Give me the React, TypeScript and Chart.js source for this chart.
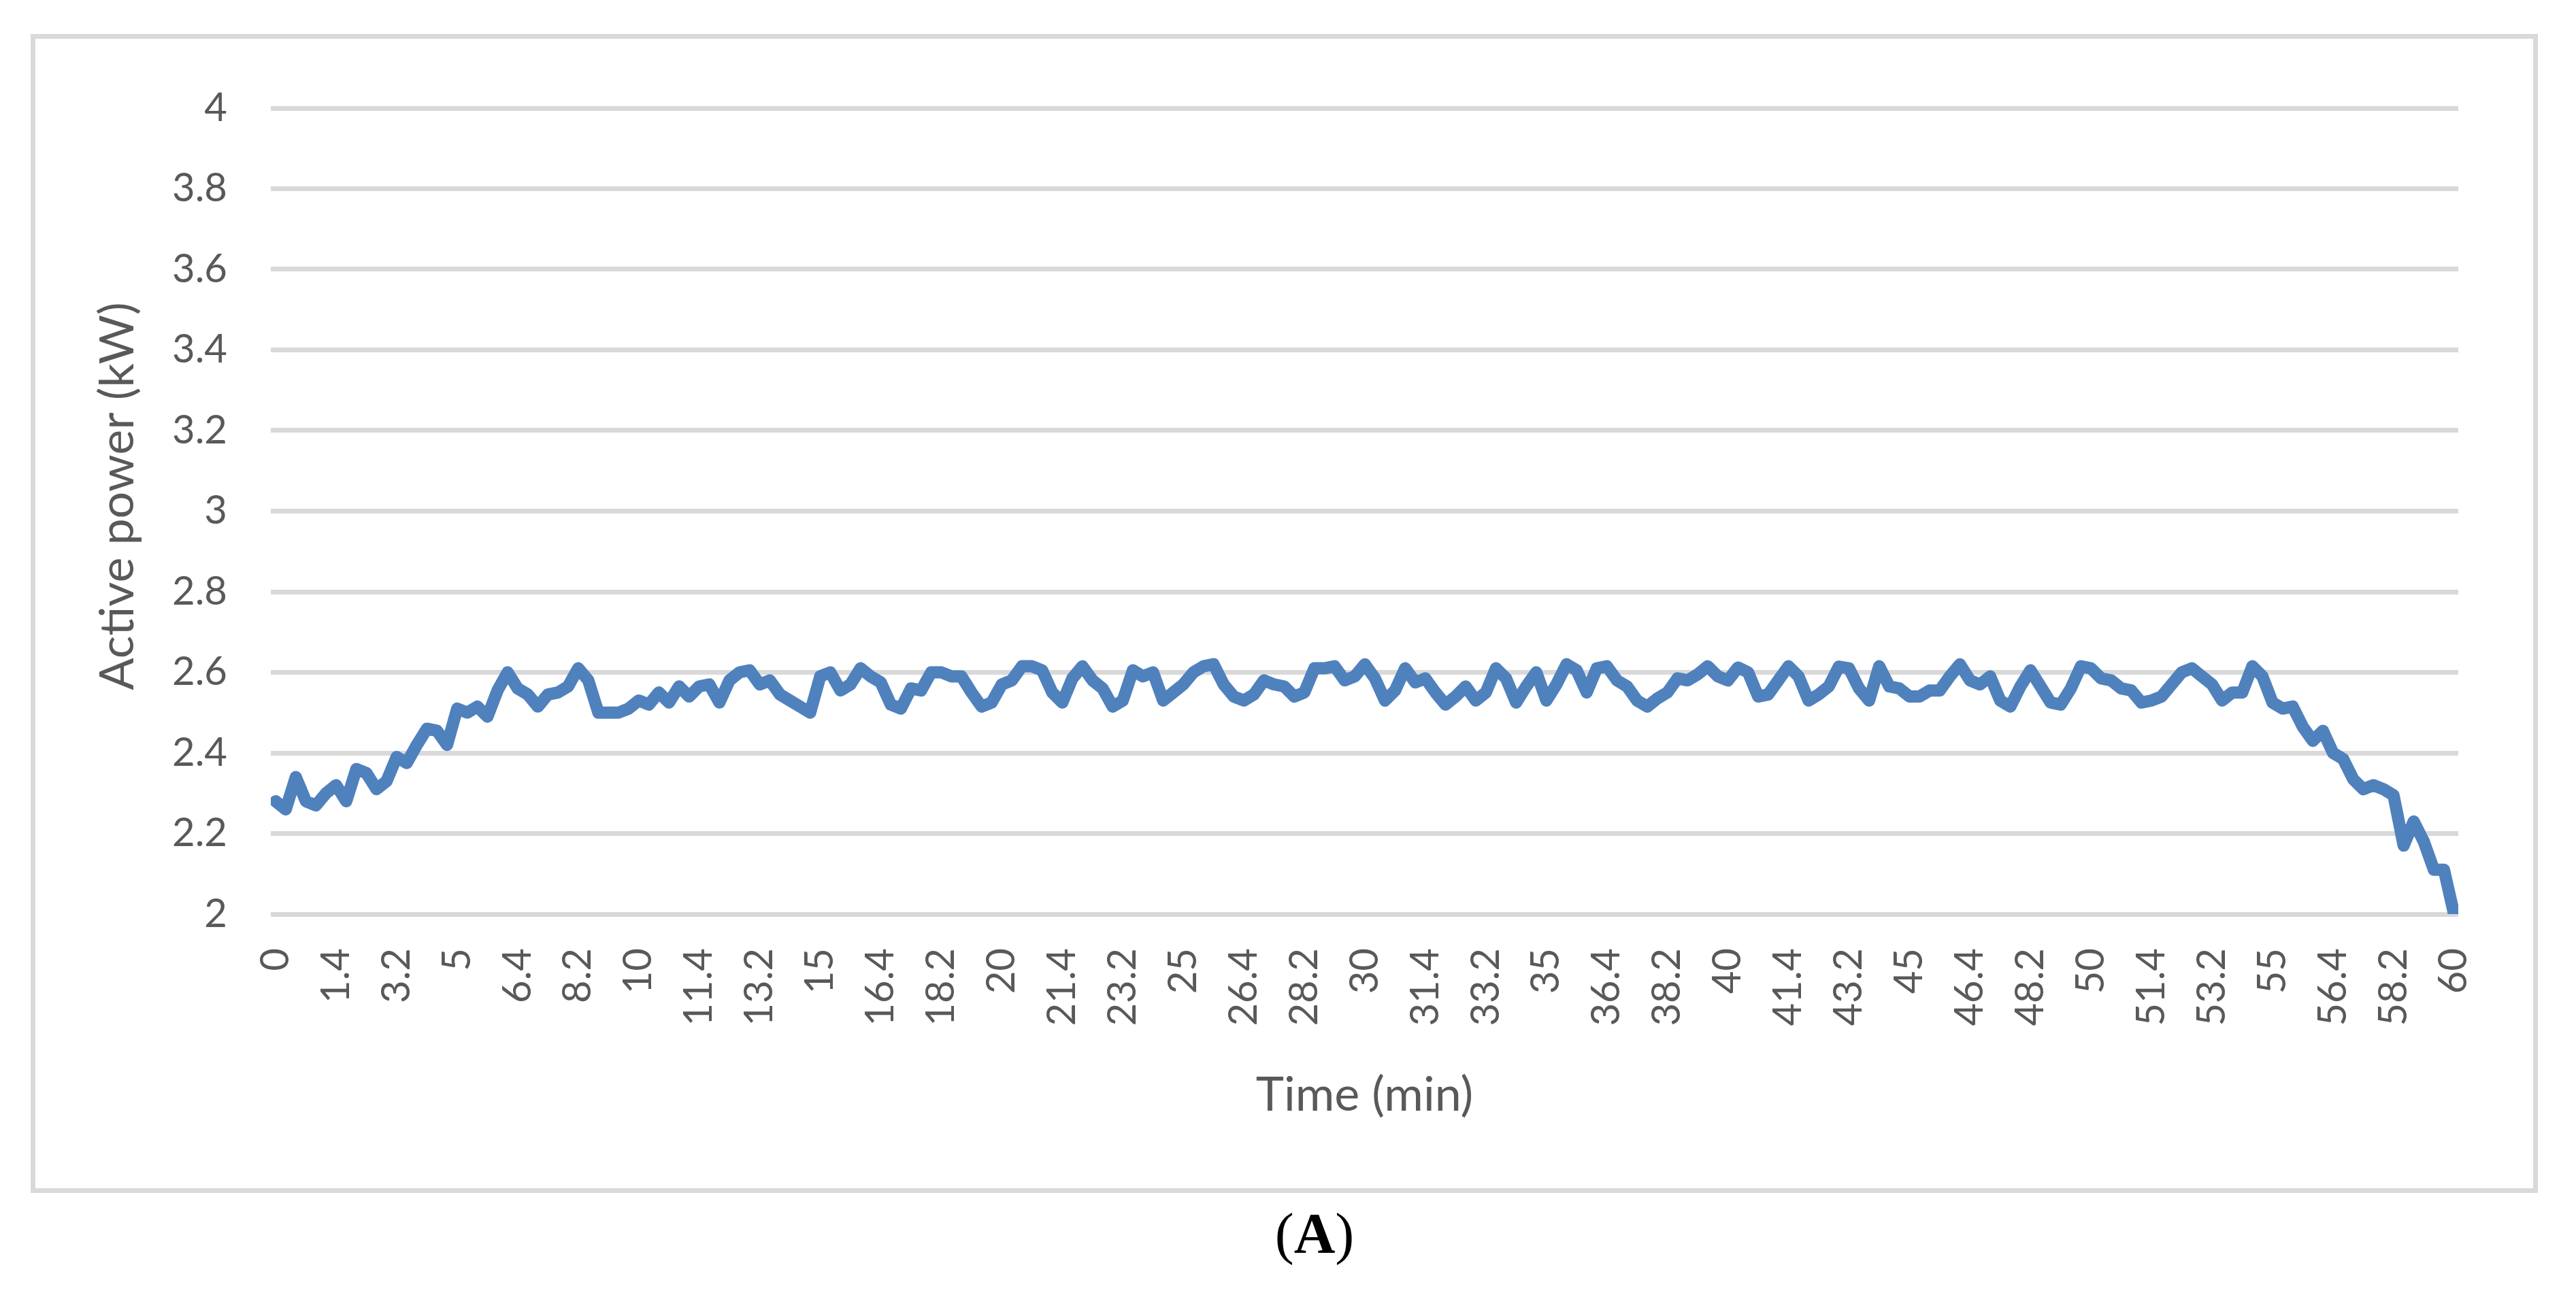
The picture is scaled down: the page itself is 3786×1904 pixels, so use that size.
import { useEffect, useRef } from 'react';
import { Chart, registerables } from 'chart.js';

Chart.register(...registerables);

// Category tick labels shown on the time axis (min)
const TICK_LABELS = [
  '0', '1.4', '3.2', '5', '6.4', '8.2', '10', '11.4', '13.2', '15', '16.4', '18.2',
  '20', '21.4', '23.2', '25', '26.4', '28.2', '30', '31.4', '33.2', '35', '36.4', '38.2',
  '40', '41.4', '43.2', '45', '46.4', '48.2', '50', '51.4', '53.2', '55', '56.4', '58.2', '60',
];

// number of samples between two consecutive tick labels
const SAMPLES_PER_LABEL = 6;

// Active power (kW)
const POWER_KW = [
  2.28, 2.26, 2.34, 2.28, 2.27, 2.30, 2.32, 2.28, 2.36, 2.35, 2.31, 2.33,
  2.39, 2.375, 2.42, 2.46, 2.455, 2.42, 2.51, 2.50, 2.515, 2.49, 2.555, 2.60,
  2.56, 2.545, 2.515, 2.545, 2.55, 2.565, 2.61, 2.58, 2.50, 2.50, 2.50, 2.51,
  2.53, 2.52, 2.55, 2.525, 2.565, 2.54, 2.565, 2.57, 2.525, 2.58, 2.60, 2.605,
  2.57, 2.58, 2.545, 2.53, 2.515, 2.50, 2.59, 2.60, 2.555, 2.57, 2.61, 2.59,
  2.575, 2.52, 2.51, 2.56, 2.555, 2.60, 2.60, 2.59, 2.59, 2.55, 2.515, 2.525,
  2.57, 2.58, 2.615, 2.615, 2.605, 2.55, 2.525, 2.585, 2.615, 2.58, 2.56, 2.515,
  2.53, 2.605, 2.59, 2.60, 2.53, 2.55, 2.57, 2.60, 2.615, 2.62, 2.57, 2.54,
  2.53, 2.545, 2.58, 2.57, 2.565, 2.54, 2.55, 2.61, 2.61, 2.615, 2.58, 2.59,
  2.62, 2.585, 2.53, 2.555, 2.61, 2.575, 2.585, 2.55, 2.52, 2.54, 2.565, 2.53,
  2.55, 2.61, 2.585, 2.525, 2.565, 2.60, 2.53, 2.57, 2.62, 2.605, 2.55, 2.61,
  2.615, 2.58, 2.565, 2.53, 2.515, 2.535, 2.55, 2.585, 2.58, 2.595, 2.615, 2.59,
  2.58, 2.612, 2.60, 2.54, 2.545, 2.58, 2.615, 2.59, 2.53, 2.545, 2.565, 2.614,
  2.61, 2.56, 2.53, 2.615, 2.565, 2.56, 2.54, 2.54, 2.555, 2.555, 2.59, 2.62,
  2.58, 2.57, 2.59, 2.53, 2.515, 2.565, 2.605, 2.565, 2.525, 2.52, 2.56, 2.615,
  2.61, 2.585, 2.58, 2.56, 2.555, 2.525, 2.53, 2.54, 2.57, 2.60, 2.61, 2.59,
  2.57, 2.53, 2.55, 2.55, 2.615, 2.59, 2.525, 2.51, 2.515, 2.465, 2.43, 2.455,
  2.40, 2.385, 2.335, 2.31, 2.32, 2.31, 2.295, 2.17, 2.23, 2.18, 2.11, 2.11,
  2.0,
];

const Y_MIN = 2;
const Y_MAX = 4;
const Y_STEP = 0.2;

const X_TITLE = 'Time (min)';
const Y_TITLE = 'Active power (kW)';

const TEXT_COLOR = '#595959';
const GRID_COLOR = '#d9d9d9';
const LINE_COLOR = '#4f81bd';
const TITLE_FONT = '70px Lato';

// Draws the vertical axis title, slightly above the plot's middle as in the reference
const yTitlePlugin = {
  id: 'yTitle',
  afterDraw(chart: any) {
    const { ctx, chartArea } = chart;
    ctx.save();
    ctx.font = TITLE_FONT;
    ctx.fillStyle = TEXT_COLOR;
    ctx.textAlign = 'center';
    ctx.textBaseline = 'middle';
    ctx.translate(chartArea.left - 225, (chartArea.top + chartArea.bottom) / 2 - 22);
    ctx.rotate(-Math.PI / 2);
    ctx.fillText(Y_TITLE, 0, 0);
    ctx.restore();
  },
};

export default function App() {
  const canvasRef = useRef<HTMLCanvasElement>(null);

  useEffect(() => {
    const canvas = canvasRef.current;
    if (!canvas) return;
    const chart = new Chart(canvas, {
      type: 'line',
      data: {
        datasets: [
          {
            data: POWER_KW.map((y, i) => ({ x: i / SAMPLES_PER_LABEL, y })),
            borderColor: LINE_COLOR,
            borderWidth: 18,
            pointRadius: 0,
            tension: 0,
            borderJoinStyle: 'round',
            borderCapStyle: 'round',
            fill: false,
          },
        ],
      },
      options: {
        animation: false,
        responsive: false,
        devicePixelRatio: 1,
        layout: { padding: { top: 159, right: 173, bottom: 0, left: 0 } },
        plugins: {
          legend: { display: false },
          tooltip: { enabled: false },
        },
        scales: {
          x: {
            type: 'linear',
            min: -0.08,
            max: TICK_LABELS.length - 1 + 0.07,
            afterBuildTicks: (scale: any) => {
              scale.ticks = TICK_LABELS.map((_, i) => ({ value: i }));
            },
            afterFit: (scale: any) => {
              scale.height = 560;
            },
            grid: { display: false },
            border: { display: false },
            ticks: {
              autoSkip: false,
              maxRotation: 90,
              minRotation: 90,
              padding: 42,
              color: TEXT_COLOR,
              font: { family: 'Lato', size: 58 },
              callback: (v: any) => TICK_LABELS[Math.round(Number(v))] ?? '',
            },
            title: {
              display: true,
              text: X_TITLE,
              color: TEXT_COLOR,
              font: { family: 'Lato', size: 70 },
              padding: { top: 0, bottom: 252 },
            },
          },
          y: {
            min: Y_MIN,
            max: Y_MAX,
            afterFit: (scale: any) => {
              scale.width = 398;
            },
            grid: { color: GRID_COLOR, lineWidth: 7, drawTicks: false },
            border: { display: false },
            ticks: {
              stepSize: Y_STEP,
              padding: 64,
              color: TEXT_COLOR,
              font: { family: 'Lato', size: 58 },
              callback: (v: any) => String(Math.round(Number(v) * 10) / 10),
            },
            title: { display: false },
          },
        },
      },
      plugins: [yTitlePlugin],
    });
    return () => chart.destroy();
  }, []);

  return (
    <div
      style={{
        position: 'absolute',
        left: 0,
        top: 0,
        width: 3786,
        height: 1904,
        background: '#ffffff',
        overflow: 'hidden',
      }}
    >
      <div
        style={{
          position: 'absolute',
          left: 45,
          top: 50,
          width: 3685,
          height: 1704,
          border: `7px solid ${GRID_COLOR}`,
          boxSizing: 'border-box',
        }}
      />
      <canvas
        ref={canvasRef}
        width={3786}
        height={1904}
        style={{ position: 'absolute', left: 0, top: 0, width: 3786, height: 1904 }}
      />
      <div
        style={{
          position: 'absolute',
          left: 1782,
          top: 1772,
          width: 300,
          textAlign: 'center',
          fontFamily: '"Liberation Serif", "Times New Roman", serif',
          fontSize: 84,
          lineHeight: '84px',
          color: '#000000',
        }}
      >
        (<b>A</b>)
      </div>
    </div>
  );
}
